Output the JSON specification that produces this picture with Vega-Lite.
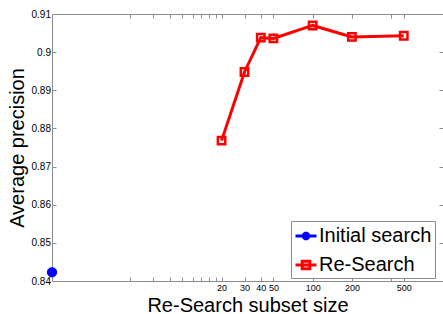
{
  "$schema": "https://vega.github.io/schema/vega-lite/v6.json",
  "width": 391,
  "height": 267,
  "autosize": {"type": "none"},
  "padding": {"left": 52, "top": 14, "right": 0, "bottom": 33},
  "background": "white",
  "config": {
    "view": {"stroke": null},
    "font": "Liberation Sans",
    "axis": {
      "grid": false,
      "domainColor": "#8c8c8c",
      "tickColor": "#8c8c8c",
      "labelColor": "black",
      "labelFont": "Liberation Sans",
      "labelFontSize": 10,
      "titleFont": "Liberation Sans",
      "titleFontSize": 20,
      "titleFontWeight": "normal",
      "titleColor": "black"
    },
    "legend": {
      "labelFont": "Liberation Sans",
      "labelFontSize": 20,
      "labelColor": "black"
    }
  },
  "data": {
    "values": [
      {"size": 1, "ap": 0.8423, "series": "Initial search"},
      {"size": 20, "ap": 0.8768, "series": "Re-Search"},
      {"size": 30, "ap": 0.8948, "series": "Re-Search"},
      {"size": 40, "ap": 0.9038, "series": "Re-Search"},
      {"size": 50, "ap": 0.9036, "series": "Re-Search"},
      {"size": 100, "ap": 0.9070, "series": "Re-Search"},
      {"size": 200, "ap": 0.9040, "series": "Re-Search"},
      {"size": 500, "ap": 0.9043, "series": "Re-Search"}
    ]
  },
  "layer": [
    {
      "transform": [{"filter": "datum.series === 'Re-Search'"}],
      "mark": {"type": "line", "strokeWidth": 3, "clip": false},
      "encoding": {
        "x": {
          "field": "size", "type": "quantitative",
          "scale": {"type": "log", "domain": [1, 1000], "nice": false},
          "axis": {
            "orient": "bottom",
            "title": "Re-Search subset size",
            "titlePadding": 3,
            "values": [20, 30, 40, 50, 100, 200, 500],
            "format": "d",
            "ticks": false,
            "tickSize": 0,
            "labelFontSize": 9,
            "labelPadding": 2,
            "labelFlush": false,
            "labelOverlap": false
          }
        },
        "y": {
          "field": "ap", "type": "quantitative",
          "scale": {"domain": [0.84, 0.91], "nice": false, "zero": false},
          "axis": {
            "orient": "left",
            "title": "Average precision",
            "values": [0.84, 0.85, 0.86, 0.87, 0.88, 0.89, 0.9, 0.91],
            "format": ".2~f",
            "ticks": false,
            "tickSize": 0,
            "labelPadding": 1.5,
            "titlePadding": 4,
            "labelFlush": false,
            "labelOverlap": false
          }
        },
        "color": {
          "field": "series", "type": "nominal",
          "scale": {"domain": ["Initial search", "Re-Search"], "range": ["#0000ff", "#ff0000"]},
          "legend": {
            "title": null,
            "orient": "none",
            "legendX": 239,
            "legendY": 207,
            "padding": 3,
            "rowPadding": 6,
            "strokeColor": "#8c8c8c",
            "fillColor": "white",
            "cornerRadius": 0,
            "symbolSize": 441,
            "symbolStrokeWidth": 3,
            "labelOffset": 1,
            "symbolType": "M-1,0H1M-0.38,-0.38H0.38V0.38H-0.38Z",
            "encode": {
              "symbols": {
                "update": {
                  "shape": {"signal": "datum.value === 'Re-Search' ? 'M-1,0H1M-0.36,-0.36H0.36V0.36H-0.36Z' : 'M-1,0H1M-0.4,0H0.4M0,-0.4V0.4M-0.28,-0.28L0.28,0.28M-0.28,0.28L0.28,-0.28'"},
                  "fill": {"value": "transparent"},
                  "strokeWidth": {"value": 3}
                }
              }
            }
          }
        }
      }
    },
    {
      "transform": [{"filter": "datum.series === 'Re-Search'"}],
      "mark": {"type": "point", "shape": "square", "filled": false, "size": 55, "strokeWidth": 2.5, "opacity": 1, "clip": false},
      "encoding": {
        "x": {"field": "size", "type": "quantitative", "axis": null},
        "y": {"field": "ap", "type": "quantitative", "axis": null},
        "color": {"field": "series", "type": "nominal", "legend": null}
      }
    },
    {
      "transform": [{"filter": "datum.series === 'Initial search'"}],
      "mark": {"type": "point", "shape": "M-1,0H1M0,-1V1M-0.7,-0.7L0.7,0.7M-0.7,0.7L0.7,-0.7", "filled": false, "size": 100, "strokeWidth": 3.5, "opacity": 1, "clip": false},
      "encoding": {
        "x": {"field": "size", "type": "quantitative", "axis": null},
        "y": {"field": "ap", "type": "quantitative", "axis": null},
        "color": {"field": "series", "type": "nominal", "legend": null}
      }
    },
    {
      "transform": [{"filter": "datum.series === 'Re-Search'"}],
      "mark": {"type": "point", "opacity": 0},
      "encoding": {
        "x": {
          "field": "size", "type": "quantitative",
          "axis": {
            "orient": "top", "title": null, "labels": false, "tickSize": -4,
            "values": [4, 6, 8, 10, 12, 14, 16, 18, 20, 30, 40, 50, 100, 200, 400, 500]
          }
        },
        "y": {
          "field": "ap", "type": "quantitative",
          "axis": {
            "orient": "right", "title": null, "labels": false, "tickSize": -4,
            "values": [0.84, 0.85, 0.86, 0.87, 0.88, 0.89, 0.9, 0.91]
          }
        }
      }
    },
    {
      "transform": [{"filter": "datum.series === 'Re-Search'"}],
      "mark": {"type": "point", "opacity": 0},
      "encoding": {
        "x": {
          "field": "size", "type": "quantitative",
          "axis": {
            "orient": "bottom", "title": null, "labels": false, "domain": false, "tickSize": -4,
            "values": [4, 6, 8, 10, 12, 14, 16, 18, 20, 30, 40, 50, 100, 200, 400, 500]
          }
        },
        "y": {
          "field": "ap", "type": "quantitative",
          "axis": {
            "orient": "left", "title": null, "labels": false, "domain": false, "tickSize": -4,
            "values": [0.84, 0.85, 0.86, 0.87, 0.88, 0.89, 0.9, 0.91]
          }
        }
      }
    }
  ],
  "resolve": {"axis": {"x": "independent", "y": "independent"}}
}
